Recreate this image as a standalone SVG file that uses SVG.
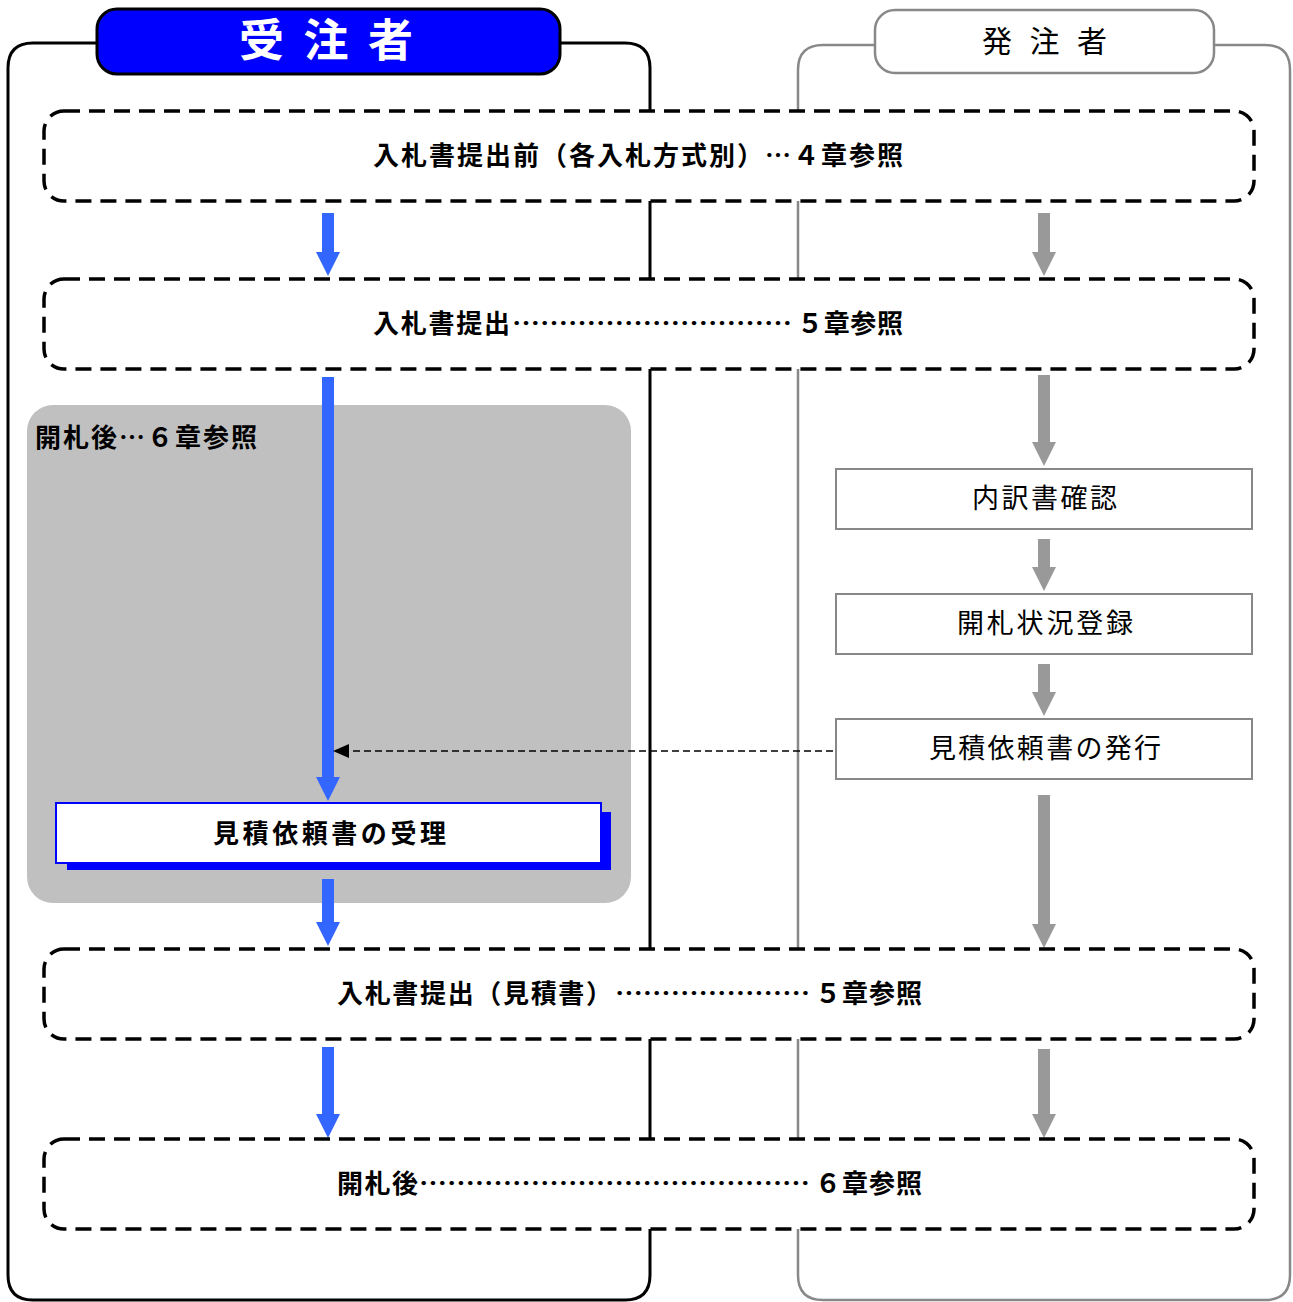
<svg xmlns="http://www.w3.org/2000/svg" width="1293" height="1302" viewBox="0 0 1293 1302">
<defs>
<style>
.lane-l{fill:none;stroke:#000;stroke-width:3}
.lane-r{fill:none;stroke:#888;stroke-width:2.5}
.dbox{fill:#fff;stroke:#000;stroke-width:3.5;stroke-dasharray:16 9}
.rbox{fill:#fff;stroke:#888;stroke-width:2}
.barrow{fill:#3366FF}
.garrow{fill:#999}
.bt{font-family:"Noto Sans CJK JP","Noto Sans CJK SC",sans-serif;font-weight:bold;fill:#000;font-size:26px}
.rt{font-family:"Noto Sans CJK JP","Noto Sans CJK SC",sans-serif;font-weight:normal;fill:#000;font-size:27px}
</style>
</defs>

<g id="lane-contractor">
<path class="lane-l" d="M97 43 H33 Q8 43 8 68 V1275 Q8 1300 33 1300 H625 Q650 1300 650 1275 V68 Q650 43 625 43 H560"/>
<rect x="97" y="9" width="463" height="65" rx="20" fill="#0000FF" stroke="#000" stroke-width="3"/>
<text x="239" y="57" font-family="'Noto Sans CJK JP','Noto Sans CJK SC',sans-serif" font-weight="bold" font-size="45" fill="#fff" textLength="174" lengthAdjust="spacing">受注者</text>
</g>

<g id="lane-orderer">
<path class="lane-r" d="M875 45 H823 Q798 45 798 70 V1275 Q798 1300 823 1300 H1265 Q1290 1300 1290 1275 V70 Q1290 45 1265 45 H1214"/>
<rect x="875" y="10" width="339" height="63" rx="20" fill="#fff" stroke="#888" stroke-width="2.5"/>
<text x="982" y="52" class="rt" style="font-size:30px" textLength="125" lengthAdjust="spacing">発 注 者</text>
</g>

<g id="phase-after-opening">
<rect x="27" y="405" width="604" height="498" rx="26" fill="#C0C0C0"/>
<text x="35" y="447" class="bt" textLength="222" lengthAdjust="spacing">開札後…６章参照</text>
</g>

<g id="connectors">
<polygon class="barrow" points="322,213 334,213 334,252 340,252 328,276 316,252 322,252"/>
<polygon class="barrow" points="322,377 334,377 334,777 340,777 328,801 316,777 322,777"/>
<polygon class="barrow" points="322,879 334,879 334,922 340,922 328,946 316,922 322,922"/>
<polygon class="barrow" points="322,1047 334,1047 334,1114 340,1114 328,1138 316,1114 322,1114"/>
<polygon class="garrow" points="1038,213 1050,213 1050,252 1056,252 1044,276 1032,252 1038,252"/>
<polygon class="garrow" points="1038,375 1050,375 1050,442 1056,442 1044,466 1032,442 1038,442"/>
<polygon class="garrow" points="1038,539 1050,539 1050,567 1056,567 1044,591 1032,567 1038,567"/>
<polygon class="garrow" points="1038,664 1050,664 1050,692 1056,692 1044,716 1032,692 1038,692"/>
<polygon class="garrow" points="1038,795 1050,795 1050,924 1056,924 1044,948 1032,924 1038,924"/>
<polygon class="garrow" points="1038,1049 1050,1049 1050,1114 1056,1114 1044,1138 1032,1114 1038,1114"/>
<line x1="833" y1="751" x2="348" y2="751" stroke="#000" stroke-width="1.5" stroke-dasharray="7 4"/>
<polygon points="333,751 349,744 349,758" fill="#000"/>
</g>

<g id="phase-before">
<rect class="dbox" x="44" y="111" width="1210" height="90" rx="20"/>
<text x="373" y="165" class="bt" textLength="530" lengthAdjust="spacing">入札書提出前（各入札方式別）…４章参照</text>
</g>

<g id="phase-submit">
<rect class="dbox" x="44" y="279" width="1210" height="90" rx="20"/>
<text x="373" y="333" class="bt" textLength="137" lengthAdjust="spacing">入札書提出</text>
<text x="512" y="333" class="bt" textLength="280" lengthAdjust="spacingAndGlyphs">…………………………</text>
<text x="797" y="333" class="bt" textLength="106" lengthAdjust="spacing">５章参照</text>
</g>

<g id="phase-submit-estimate">
<rect class="dbox" x="44" y="949" width="1210" height="90" rx="20"/>
<text x="337" y="1003" class="bt" textLength="275" lengthAdjust="spacing">入札書提出（見積書）</text>
<text x="615" y="1003" class="bt" textLength="195" lengthAdjust="spacingAndGlyphs">…………………</text>
<text x="815" y="1003" class="bt" textLength="107" lengthAdjust="spacing">５章参照</text>
</g>

<g id="phase-after">
<rect class="dbox" x="44" y="1139" width="1210" height="90" rx="20"/>
<text x="337" y="1193" class="bt" textLength="81" lengthAdjust="spacing">開札後</text>
<text x="419" y="1193" class="bt" textLength="391" lengthAdjust="spacingAndGlyphs">……………………………………</text>
<text x="815" y="1193" class="bt" textLength="107" lengthAdjust="spacing">６章参照</text>
</g>

<g id="node-breakdown">
<rect class="rbox" x="836" y="469" width="416" height="60"/>
<text x="972" y="508" class="rt" textLength="145" lengthAdjust="spacing">内訳書確認</text>
</g>

<g id="node-status">
<rect class="rbox" x="836" y="594" width="416" height="60"/>
<text x="957" y="633" class="rt" textLength="176" lengthAdjust="spacing">開札状況登録</text>
</g>

<g id="node-issue">
<rect class="rbox" x="836" y="719" width="416" height="60"/>
<text x="929" y="758" class="rt" textLength="232" lengthAdjust="spacing">見積依頼書の発行</text>
</g>

<g id="node-receive">
<rect x="67" y="812" width="544" height="58" fill="#0000FF"/>
<rect x="56" y="803" width="545" height="60" fill="#fff" stroke="#0000FF" stroke-width="2"/>
<text x="213" y="843" class="bt" textLength="233" lengthAdjust="spacing">見積依頼書の受理</text>
</g>
</svg>
